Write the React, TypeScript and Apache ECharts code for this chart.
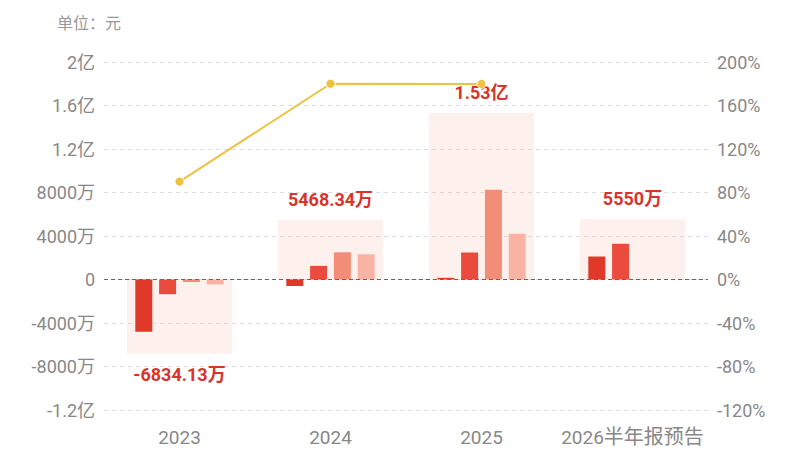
import React, { useEffect, useRef } from "react";
import * as echarts from "echarts";

const categories = ["2023", "2024", "2025", "2026半年报预告"];
// annual totals (元)
const annualTotals = [-68341300, 54683400, 153000000, 55500000];
const annualLabels = ["-6834.13万", "5468.34万", "1.53亿", "5550万"];
// quarterly values (元)
const q1 = [-48000000, -6000000, 1560000, 21150000];
const q2 = [-13500000, 12500000, 24830000, 32830000];
const q3 = [-2300000, 25000000, 82480000, null];
const q4 = [-4540000, 23180000, 42020000, null];
// growth rate (%)
const growth = [90, 180.01, 179.8, null];

const leftTicks: Record<string, string> = {
  "200000000": "2亿",
  "160000000": "1.6亿",
  "120000000": "1.2亿",
  "80000000": "8000万",
  "40000000": "4000万",
  "0": "0",
  "-40000000": "-4000万",
  "-80000000": "-8000万",
  "-120000000": "-1.2亿",
};

const FONT = "Roboto, 'Noto Sans CJK SC', sans-serif";

export default function App() {
  const ref = useRef<HTMLDivElement>(null);
  useEffect(() => {
    const chart = echarts.init(ref.current!, null, { renderer: "svg" });
    const barColors = ["#e0392a", "#ea4b3c", "#f28d78", "#f9b3a3"];
    const quarters = [q1, q2, q3, q4];
    chart.setOption({
      animation: false,
      textStyle: { fontFamily: FONT },
      graphic: [
        {
          type: "text",
          left: 57,
          top: 15,
          style: { text: "单位：元", fontSize: 16, fill: "#999", fontFamily: FONT },
        },
      ],
      grid: { left: 104, right: 92, top: 62, bottom: 40, containLabel: false },
      xAxis: [
        {
          type: "category",
          data: categories,
          axisLine: { show: false },
          axisTick: { show: false },
          axisLabel: {
            color: "#888",
            fontSize: 18,
            margin: 17,
            interval: 0,
            fontFamily: FONT,
            formatter: (v: string) => {
              const m = v.match(/^(\d+)(.*)$/);
              if (!m) return v;
              return m[2] ? `{d|${m[1]}}{c|${m[2]}}` : `{d|${m[1]}}`;
            },
            rich: {
              d: { fontSize: 19, color: "#888", fontFamily: FONT, lineHeight: 20 },
              c: { fontSize: 20, color: "#888", fontFamily: FONT, lineHeight: 20 },
            },
          },
        },
        {
          type: "category",
          data: categories,
          show: false,
        },
      ],
      yAxis: [
        {
          type: "value",
          min: -120000000,
          max: 200000000,
          interval: 40000000,
          axisLine: { show: false },
          axisTick: { show: false },
          axisLabel: {
            color: "#888",
            fontSize: 18,
            margin: 9,
            fontFamily: FONT,
            formatter: (v: number) => leftTicks[String(v)] ?? String(v),
          },
          splitLine: { lineStyle: { type: [4, 4], color: "#ddd" } },
        },
        {
          type: "value",
          min: -120,
          max: 200,
          interval: 40,
          axisLine: { show: false },
          axisTick: { show: false },
          axisLabel: { color: "#888", fontSize: 18, margin: 9, fontFamily: FONT, formatter: "{value}%" },
          splitLine: { show: false },
        },
      ],
      series: [
        {
          type: "bar",
          xAxisIndex: 1,
          yAxisIndex: 0,
          data: annualTotals.map((v) => ({
            value: v,
            label: { position: v < 0 ? "bottom" : "top" },
          })),
          barWidth: 105,
          itemStyle: { color: "rgba(252,190,175,0.22)" },
          label: {
            show: true,
            distance: 12,
            formatter: (p: any) => annualLabels[p.dataIndex],
            color: "#d9342a",
            fontSize: 18,
            fontWeight: "bold",
            fontFamily: FONT,
          },
          z: 1,
          markLine: {
            silent: true,
            symbol: "none",
            label: { show: false },
            lineStyle: { type: [4, 3], color: "#666", width: 1 },
            data: [{ yAxis: 0 }],
          },
        },
        ...quarters.map((q, i) => ({
          type: "bar",
          xAxisIndex: 0,
          yAxisIndex: 0,
          data: q,
          barWidth: 17,
          barGap: "40%",
          itemStyle: { color: barColors[i] },
          z: 3,
        })),
        {
          type: "line",
          xAxisIndex: 0,
          yAxisIndex: 1,
          data: growth,
          symbol: "circle",
          symbolSize: 9,
          lineStyle: { color: "#efc140", width: 2 },
          itemStyle: { color: "#efc140", borderColor: "#fff", borderWidth: 1 },
          z: 4,
        },
      ],
    });
    return () => chart.dispose();
  }, []);
  return (
    <div
      ref={ref}
      style={{ position: "absolute", left: 0, top: 0, width: 800, height: 450 }}
    />
  );
}
